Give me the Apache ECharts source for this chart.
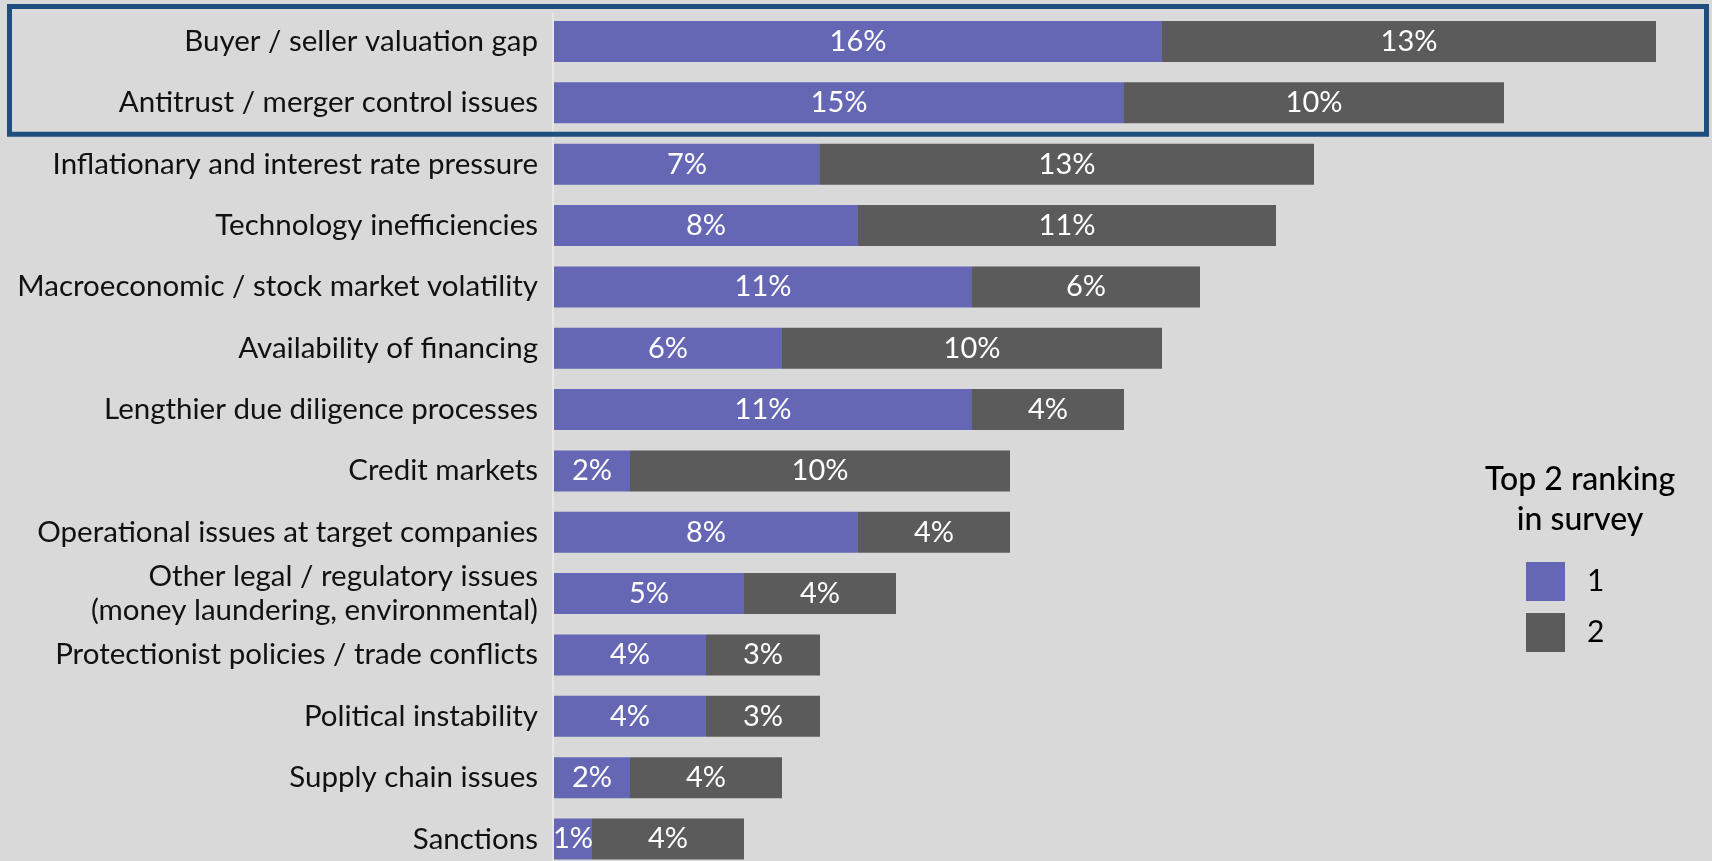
<!DOCTYPE html>
<html>
<head>
<meta charset="utf-8">
<script src="https://cdn.jsdelivr.net/npm/echarts@6/dist/echarts.min.js"></script>
<style>
html,body{margin:0;padding:0;background:#d9d9d9;}
#chart{width:1712px;height:861px;}
</style>
</head>
<body>
<div id="chart"></div>
<script>
const categories = [
  "Buyer / seller valuation gap",
  "Antitrust / merger control issues",
  "Inflationary and interest rate pressure",
  "Technology inefficiencies",
  "Macroeconomic / stock market volatility",
  "Availability of financing",
  "Lengthier due diligence processes",
  "Credit markets",
  "Operational issues at target companies",
  "Other legal / regulatory issues\n(money laundering, environmental)",
  "Protectionist policies / trade conflicts",
  "Political instability",
  "Supply chain issues",
  "Sanctions"
];
const rank1 = [16, 15, 7, 8, 11, 6, 11, 2, 8, 5, 4, 4, 2, 1];
const rank2 = [13, 10, 13, 11, 6, 10, 4, 10, 4, 4, 3, 3, 4, 4];
const seriesNames = ["1", "2"];
const legendTitle = "Top 2 ranking\nin survey";

const FONT = "Lato, 'Open Sans', sans-serif";
const chart = echarts.init(document.getElementById('chart'));
const labelCfg = {
  show: true,
  position: 'inside',
  color: '#ffffff',
  fontSize: 29,
  fontFamily: FONT,
  formatter: p => p.value + '%'
};
chart.setOption({
  backgroundColor: '#d9d9d9',
  animation: false,
  textStyle: { fontFamily: FONT },
  title: {
    text: legendTitle,
    left: 1580,
    top: 460,
    padding: 0,
    textAlign: 'center',
    textStyle: { fontSize: 32, fontWeight: 500, color: '#000', lineHeight: 40, fontFamily: FONT }
  },
  legend: {
    data: seriesNames,
    orient: 'vertical',
    left: 1526,
    top: 562,
    padding: 0,
    itemWidth: 39,
    itemHeight: 39,
    itemGap: 12,
    icon: 'rect',
    textStyle: { fontSize: 30, color: '#000', fontFamily: FONT, padding: [0, 0, 0, 17] }
  },
  grid: { left: 554, right: 18, top: 41.5, bottom: 17, containLabel: false },
  xAxis: {
    type: 'value', min: 0, max: 30, show: false
  },
  yAxis: {
    type: 'category',
    data: categories,
    inverse: true,
    boundaryGap: false,
    axisTick: { show: false },
    axisLine: { show: false },
    axisLabel: { fontSize: 29.5, color: '#111', margin: 16, lineHeight: 34, fontFamily: FONT,
                 padding: [0, 0, 10, 0] }
  },
  series: [
    { name: seriesNames[0], type: 'bar', stack: 'a', data: rank1, barWidth: 41,
      itemStyle: { color: '#6567b4' }, label: labelCfg },
    { name: seriesNames[1], type: 'bar', stack: 'a', data: rank2, barWidth: 41,
      itemStyle: { color: '#5b5b5b' }, label: labelCfg }
  ]
});
const y0 = chart.convertToPixel({ yAxisIndex: 0 }, 0);
const y1 = chart.convertToPixel({ yAxisIndex: 0 }, 1);
const xBase = chart.convertToPixel({ xAxisIndex: 0 }, 0);
chart.setOption({
  graphic: [{
    type: 'line',
    shape: { x1: xBase - 1, y1: y0 - 29, x2: xBase - 1, y2: 861 },
    style: { stroke: '#e6e6e6', lineWidth: 2 },
    z: 0
  }, {
    type: 'rect',
    shape: { x: 9.5, y: y0 - 35, width: 1697, height: (y1 + 31.5) - (y0 - 35) },
    style: { fill: 'none', stroke: '#1f4e7e', lineWidth: 5 },
    z: 100
  }]
});
</script>
</body>
</html>
